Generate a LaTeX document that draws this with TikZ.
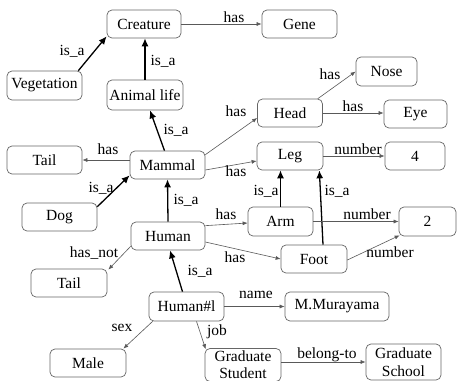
\documentclass[tikz,border=0pt]{standalone}
\usepackage{fontspec}
\setmainfont{Liberation Serif}
\usetikzlibrary{arrows.meta}
\tikzset{
  box/.style={draw=black!60, line width=0.7pt, rounded corners=5pt, inner sep=0pt, align=center,
    font=\fontsize{15.5}{18}\selectfont},
  lbl/.style={inner sep=0pt, font=\fontsize{15.5}{19}\selectfont},
  rel/.style={draw=black!65, line width=0.6pt, -{Latex[length=5pt,width=4pt]}},
  isa/.style={draw=black, line width=1.3pt, -{Latex[length=8pt,width=7pt]}},
}
\begin{document}
\begin{tikzpicture}[x=1pt,y=-1pt]
\useasboundingbox (0,0) rectangle (459,381);
\clip (0,0) rectangle (459,381);
\fill[white] (0,0) rectangle (459,381);
% nodes
\node[box, minimum width=74pt, minimum height=28pt] (creature) at (144,24) {Creature};
\node[box, minimum width=75pt, minimum height=28pt] (gene) at (299.5,24) {Gene};
\node[box, minimum width=75pt, minimum height=29pt] (veg) at (44.5,85.5) {Vegetation};
\node[box, minimum width=76pt, minimum height=30pt] (animal) at (145,95) {Animal life};
\node[box, minimum width=61pt, minimum height=29pt] (nose) at (386.5,71.5) {Nose};
\node[box, minimum width=65pt, minimum height=28pt] (head) at (290,113) {Head};
\node[box, minimum width=63pt, minimum height=28pt] (eye) at (415.5,114) {Eye};
\node[box, minimum width=75pt, minimum height=28pt] (tailA) at (44.5,160) {Tail};
\node[box, minimum width=75pt, minimum height=28pt] (mammal) at (167.5,165) {Mammal};
\node[box, minimum width=66pt, minimum height=28pt] (leg) at (290,156) {Leg};
\node[box, minimum width=60pt, minimum height=28pt] (four) at (415,156) {4};
\node[box, minimum width=75pt, minimum height=28pt] (dog) at (59.5,217) {Dog};
\node[box, minimum width=74pt, minimum height=28pt] (human) at (168,236) {Human};
\node[box, minimum width=65pt, minimum height=29pt] (arm) at (280.5,221.5) {Arm};
\node[box, minimum width=57pt, minimum height=29pt] (two) at (427.5,221.5) {2};
\node[box, minimum width=66pt, minimum height=28pt] (foot) at (314,259) {Foot};
\node[box, minimum width=76pt, minimum height=28pt] (tailB) at (69,283) {Tail};
\node[box, minimum width=75pt, minimum height=29pt] (human1) at (186.5,306.5) {Human\#l};
\node[box, minimum width=104pt, minimum height=29pt] (mura) at (337,306.5) {M.Murayama};
\node[box, minimum width=76pt, minimum height=28pt] (male) at (88,363) {Male};
\node[box, minimum width=76pt, minimum height=33pt, font=\fontsize{15.5}{17}\selectfont] (gstud) at (243,365) {Graduate\\Student};
\node[box, minimum width=75pt, minimum height=36pt] (gschool) at (403.5,362) {Graduate\\School};
% connectors
\draw[rel] (creature.east) -- (gene.west);
\draw[isa] ([xshift=-4pt]veg.north east) -- ([yshift=2pt]creature.south west);
\draw[isa] (animal.north) -- (animal.north |- creature.south);
\draw[isa] ([xshift=-3pt]mammal.north) -- ([xshift=5pt]animal.south);
\draw[rel] (mammal.west |- tailA.east) -- (tailA.east);
\draw[isa] ([yshift=-4pt]dog.north east) -- ([yshift=4pt]mammal.south west);
\draw[rel] ([yshift=-4pt]mammal.north east) -- ([yshift=-5pt]head.west);
\draw[rel] ([yshift=-5pt]mammal.east) -- ([yshift=-5pt]leg.west);
\draw[rel] ([xshift=-5pt]head.north east) -- (nose.west);
\draw[rel] (head.east) -- (head.east -| eye.west);
\draw[rel] (leg.east) -- (four.west);
\draw[isa] (arm.north) -- (arm.north |- leg.south);
\draw[isa] ([xshift=9pt]foot.north) -- ([xshift=-4pt]leg.south east);
\draw[rel] (arm.east) -- (two.west);
\draw[rel] ([yshift=-1pt]foot.east) -- ([xshift=1pt,yshift=1pt]two.south west);
\draw[isa] (human.north) -- (mammal.south);
\draw[rel] ([yshift=-4pt]human.north east) -- ([yshift=-1.5pt]arm.west);
\draw[rel] ([yshift=-6pt]human.east) -- (foot.west);
\draw[rel] ([yshift=4pt]human.south west) -- ([xshift=1pt,yshift=-1pt]tailB.north east);
\draw[isa] ([xshift=-4pt]human1.north) -- ([xshift=2pt]human.south);
\draw[rel] (human1.east) -- (mura.west);
\draw[rel] ([xshift=4pt]human1.south west) -- ([xshift=-3pt]male.north east);
\draw[rel] ([xshift=10pt]human1.south) -- ([xshift=1pt,yshift=-1pt]gstud.north west);
\draw[rel] (gstud.east |- gschool.west) -- (gschool.west);
% labels
\node[lbl] (l1) at (234,17) {has};
\node[lbl] (l2) at (72,51) {is\_a};
\node[lbl] (l3) at (163,61) {is\_a};
\node[lbl] (l4) at (176,130) {is\_a};
\node[lbl] (l5) at (108,149) {has};
\node[lbl] (l6) at (101,188) {is\_a};
\node[lbl] (l7) at (236,111) {has};
\node[lbl] (l8) at (236,171) {has};
\node[lbl] (l9) at (330,74) {has};
\node[lbl] (l10) at (353,106) {has};
\node[lbl] (l11) at (358,149) {number};
\node[lbl] (l12) at (266,191) {is\_a};
\node[lbl] (l13) at (337,191) {is\_a};
\node[lbl] (l14) at (367,214) {number};
\node[lbl] (l15) at (390,252) {number};
\node[lbl] (l16) at (186,200) {is\_a};
\node[lbl] (l17) at (226,214) {has};
\node[lbl] (l18) at (235,257) {has};
\node[lbl] (l19) at (94,253) {has\_not};
\node[lbl] (l20) at (200,271) {is\_a};
\node[lbl] (l21) at (256,295) {name};
\node[lbl] (l22) at (122,328) {sex};
\node[lbl] (l23) at (217,332) {job};
\node[lbl] (l24) at (327,355) {belong-to};
\end{tikzpicture}
\end{document}
